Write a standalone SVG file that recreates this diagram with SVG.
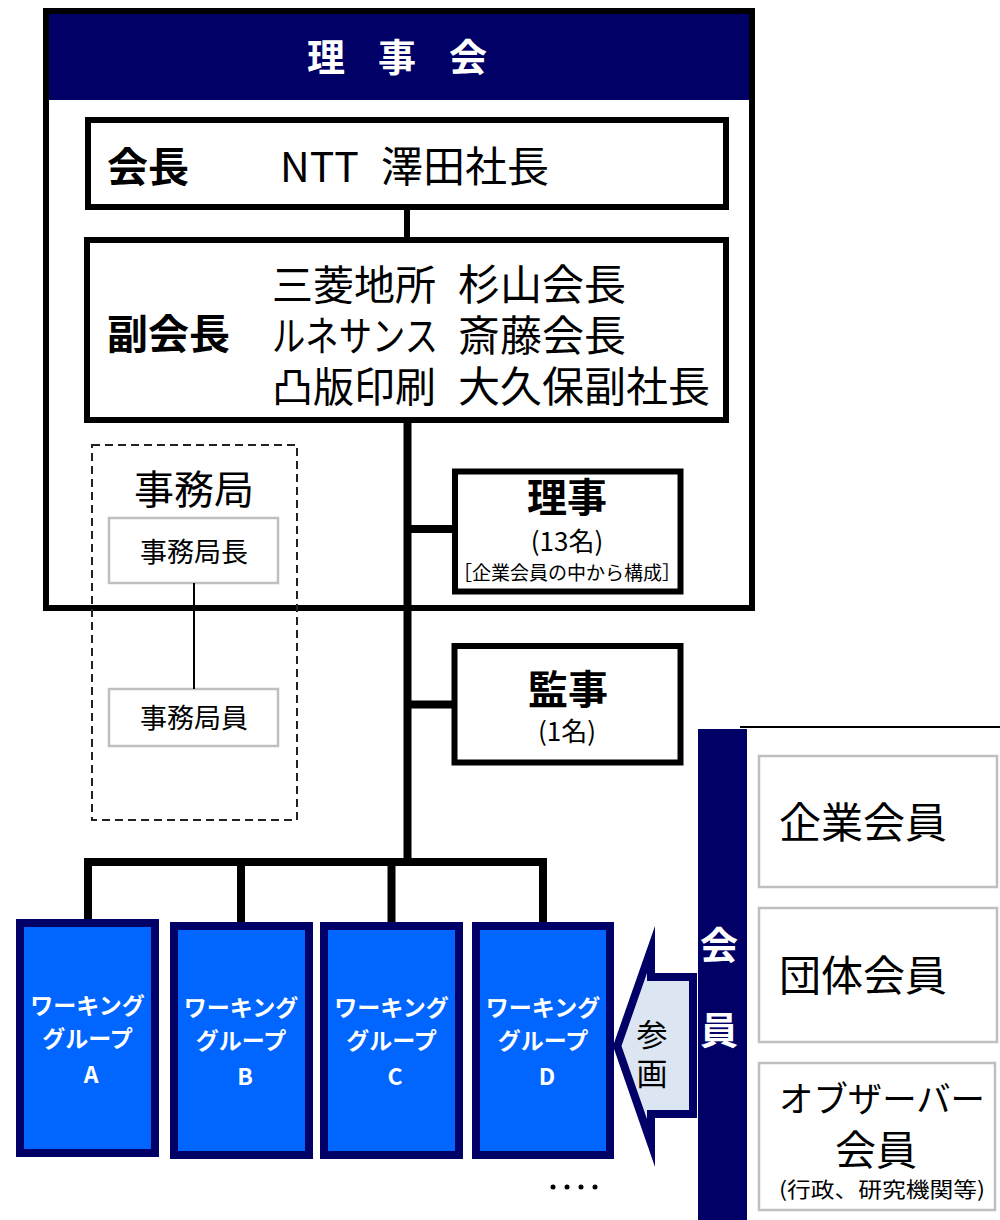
<svg xmlns="http://www.w3.org/2000/svg" width="1000" height="1220" viewBox="0 0 1000 1220">
<style>
text{font-family:"Noto Sans CJK JP","Noto Sans",sans-serif;fill:#000}
.b{font-weight:bold}
.w{fill:#fff}
.box{fill:#fff;stroke:#000;stroke-width:6}
.gbox{fill:#fff;stroke:#BFBFBF;stroke-width:2.5}
.wg{fill:#0066FF;stroke:#000066;stroke-width:8}
.conn{fill:none;stroke:#000;stroke-width:8}
.mid{text-anchor:middle}
</style>
<rect width="1000" height="1220" fill="#fff"/>
<g id="board">
<rect x="46" y="11" width="706" height="597" fill="#fff" stroke="#000" stroke-width="6"/>
<rect x="49" y="14" width="700" height="86" fill="#000066"/>
<text class="b w" x="307 378 449" y="71" font-size="38">理事会</text>
</g>
<g id="chairman">
<rect class="box" x="88" y="120" width="638" height="87"/>
<text class="b" x="107" y="182" font-size="41">会長</text>
<text x="280" y="182" font-size="41">NTT</text>
<text x="381" y="182" font-size="42">澤田社長</text>
</g>
<g id="vice">
<rect class="box" x="87" y="240" width="639" height="180"/>
<text class="b" x="107" y="349" font-size="41">副会長</text>
<text x="272" y="300" font-size="41">三菱地所</text>
<text x="458" y="300" font-size="42">杉山会長</text>
<text x="272" y="351" font-size="41" textLength="166" lengthAdjust="spacingAndGlyphs">ルネサンス</text>
<text x="458" y="351" font-size="42">斎藤会長</text>
<text x="272" y="402" font-size="41">凸版印刷</text>
<text x="458" y="402" font-size="42">大久保副社長</text>
</g>
<g id="secretariat">
<rect x="92" y="445" width="205" height="375" fill="none" stroke="#222" stroke-width="2" stroke-dasharray="8 5"/>
<text class="mid" x="194" y="504" font-size="40">事務局</text>
<rect class="gbox" x="109" y="518" width="169" height="65"/>
<text class="mid" x="194" y="562" font-size="27">事務局長</text>
<rect class="gbox" x="109" y="689" width="169" height="57"/>
<text class="mid" x="194" y="728" font-size="27">事務局員</text>
</g>
<g id="connectors">
<line x1="407" y1="205" x2="407" y2="242" stroke="#000" stroke-width="6"/>
<line x1="407.5" y1="418" x2="407.5" y2="866" class="conn"/>
<line x1="407" y1="529" x2="456" y2="529" class="conn"/>
<line x1="407" y1="704.5" x2="456" y2="704.5" class="conn"/>
<path d="M88,924 V862 H543 V924" class="conn" stroke-width="7"/>
<line x1="241" y1="862" x2="241" y2="924" class="conn" stroke-width="7"/>
<line x1="391.5" y1="862" x2="391.5" y2="924" class="conn" stroke-width="7"/>
<line x1="194" y1="583" x2="194" y2="689" stroke="#000" stroke-width="2"/>
</g>
<g id="riji">
<rect class="box" x="455" y="471.5" width="225.5" height="120"/>
<text class="b mid" x="567" y="512" font-size="40">理事</text>
<text class="mid" x="567" y="551" font-size="26">(13名)</text>
<text class="mid" x="567" y="580" font-size="19">［企業会員の中から構成］</text>
</g>
<g id="kanji">
<rect class="box" x="454.5" y="646" width="226" height="116.5"/>
<text class="b mid" x="568" y="704" font-size="40">監事</text>
<text class="mid" x="567" y="741" font-size="26">(1名)</text>
</g>
<g id="wg-a">
<rect class="wg" x="20" y="923" width="135" height="230"/>
<text class="b w mid" x="87.5" y="1014" font-size="23">ワーキング</text>
<text class="b w mid" x="87.5" y="1047" font-size="23">グループ</text>
<text class="b w mid" x="91" y="1083" font-size="23">A</text>
</g>
<g id="wg-b">
<rect class="wg" x="174" y="926" width="135" height="229"/>
<text class="b w mid" x="241" y="1016" font-size="23">ワーキング</text>
<text class="b w mid" x="241" y="1049" font-size="23">グループ</text>
<text class="b w mid" x="245" y="1085" font-size="23">B</text>
</g>
<g id="wg-c">
<rect class="wg" x="324" y="926" width="135" height="229"/>
<text class="b w mid" x="391.5" y="1016" font-size="23">ワーキング</text>
<text class="b w mid" x="391.5" y="1049" font-size="23">グループ</text>
<text class="b w mid" x="395" y="1085" font-size="23">C</text>
</g>
<g id="wg-d">
<rect class="wg" x="476" y="926" width="134" height="229"/>
<text class="b w mid" x="543" y="1016" font-size="23">ワーキング</text>
<text class="b w mid" x="543" y="1049" font-size="23">グループ</text>
<text class="b w mid" x="547" y="1085" font-size="23">D</text>
</g>
<g id="more">
<circle cx="553" cy="1187" r="2.5"/>
<circle cx="567" cy="1187" r="2.5"/>
<circle cx="581" cy="1187" r="2.5"/>
<circle cx="595" cy="1187" r="2.5"/>
</g>
<g id="sankaku">
<polygon points="613,1046 655,926 655,973 697,973 697,1118 655,1118 655,1167" fill="#000066"/>
<polygon points="621.5,1046 647,973 647,981 689,981 689,1110 647,1110 647,1119" fill="#DCE6F2"/>
<text class="mid" x="652" y="1046" font-size="31">参</text>
<text class="mid" x="652" y="1085" font-size="31">画</text>
</g>
<g id="members">
<line x1="740" y1="727" x2="1000" y2="727" stroke="#000" stroke-width="2"/>
<rect x="698" y="729" width="49" height="491" fill="#000066"/>
<text class="b w mid" x="719" y="959" font-size="38">会</text>
<text class="b w mid" x="719" y="1044" font-size="38">員</text>
<rect class="gbox" x="759" y="756" width="238" height="131"/>
<text x="779" y="838" font-size="42">企業会員</text>
<rect class="gbox" x="759" y="908" width="238" height="134"/>
<text x="779" y="991" font-size="42">団体会員</text>
<rect class="gbox" x="759" y="1063" width="236" height="147"/>
<text x="779" y="1112" font-size="35" textLength="206" lengthAdjust="spacingAndGlyphs">オブザーバー</text>
<text class="mid" x="876" y="1165" font-size="41">会員</text>
<text x="779" y="1197" font-size="21" textLength="206" lengthAdjust="spacingAndGlyphs">(行政、研究機関等)</text>
</g>
</svg>
